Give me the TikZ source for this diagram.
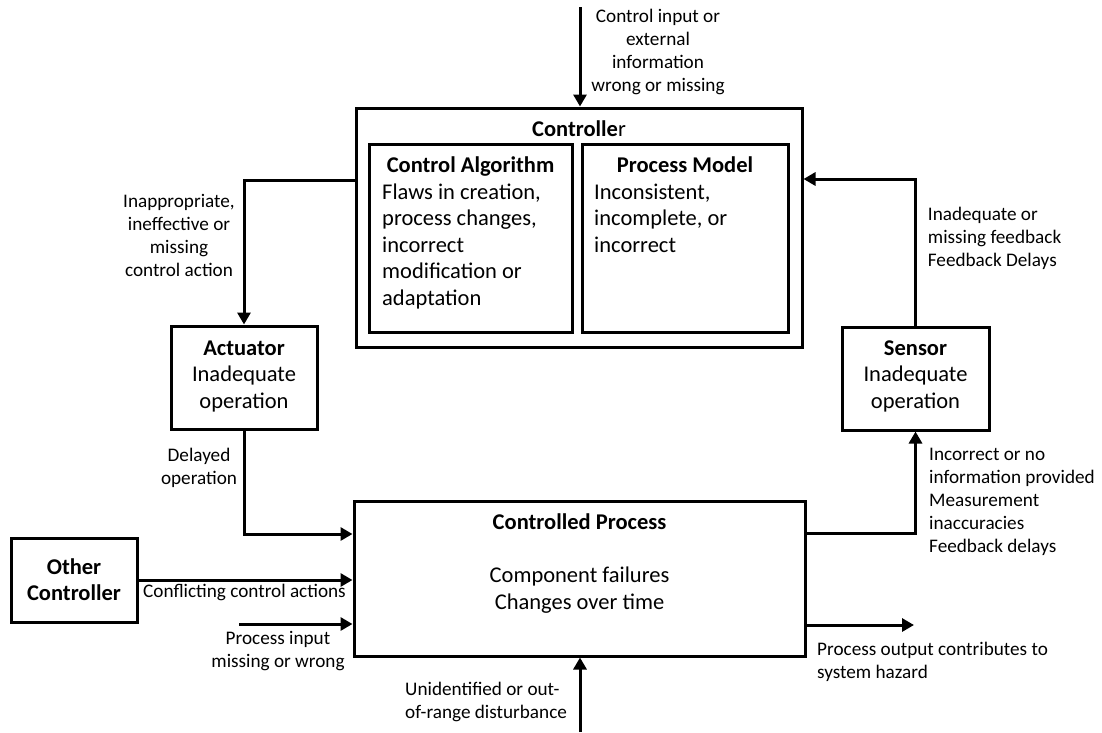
\documentclass[tikz,border=0pt]{standalone}
\usepackage{fontspec}
\setmainfont{Carlito}
\usetikzlibrary{arrows.meta}
% stacked lines, baseline at the first line
\newcommand\stackc[1]{\begin{tabular}[t]{@{}c@{}}#1\end{tabular}}
\newcommand\stackl[1]{\begin{tabular}[t]{@{}l@{}}#1\end{tabular}}
\begin{document}
\begin{tikzpicture}[x=1pt,y=-1pt,
  box/.style={draw, line width=3pt, inner sep=0pt},
  boxtext/.style={inner sep=0pt, font=\fontsize{22.5}{26.6}\selectfont},
  lbl/.style={inner sep=0pt, font=\fontsize{19.2}{23}\selectfont},
  arr/.style={line width=3pt, -{Triangle[length=12pt,width=13pt]}},
  wire/.style={line width=3pt}]
\fill[white] (0,0) rectangle (1102,732);
\useasboundingbox (0,0) rectangle (1102,732);

% controller with its two inner parts
\node[box, minimum width=446pt, minimum height=239pt] (ctrl) at (579,227.5) {};
\node[boxtext, anchor=base] (ctrlT) at (579,136) {\textbf{Controlle}r};
\node[box, minimum width=203pt, minimum height=188pt] (alg) at (470.5,238) {};
\node[box, minimum width=206pt, minimum height=188pt] (pm) at (685,238) {};
\node[boxtext, anchor=base] (algT) at (470.5,172.7) {\textbf{Control Algorithm}};
\node[boxtext, anchor=base west] (algB) at (382,199) {\stackl{Flaws in creation,\\process changes,\\incorrect\\modification or\\adaptation}};
\node[boxtext, anchor=base] (pmT) at (685,172.7) {\textbf{Process Model}};
\node[boxtext, anchor=base west] (pmB) at (594,199) {\stackl{Inconsistent,\\incomplete, or\\incorrect}};

% actuator, sensor, process, other controller
\node[box, minimum width=146pt, minimum height=103pt] (act) at (244,377.5) {};
\node[boxtext, anchor=base] (actT) at (244,355) {\stackc{\textbf{Actuator}\\Inadequate\\operation}};
\node[box, minimum width=147pt, minimum height=103pt] (sen) at (915.5,378.5) {};
\node[boxtext, anchor=base] (senT) at (915.5,355) {\stackc{\textbf{Sensor}\\Inadequate\\operation}};
\node[box, minimum width=451pt, minimum height=155pt] (cp) at (579.5,578.5) {};
\node[boxtext, anchor=base] (cpT) at (579.5,529) {\textbf{Controlled Process}};
\node[boxtext, anchor=base] (cpB) at (579.5,582.7) {\stackc{Component failures\\Changes over time}};
\node[box, minimum width=126pt, minimum height=84pt] (oc) at (74,580) {};
\node[boxtext, anchor=base] (ocT) at (74,574) {\stackc{\textbf{Other}\\\textbf{Controller}}};

% free ends and bend heights
\coordinate (inTop) at (580,7);
\coordinate (caOut) at (0,180.7);
\coordinate (dOut) at (0,534);
\coordinate (pin) at (239,624);
\coordinate (dist) at (580,732);
\coordinate (poutY) at (0,625);
\coordinate (pout) at (914,625);
\coordinate (fbLow) at (0,533);
\coordinate (fbTop) at (0,179);

% connectors
\draw[arr] (inTop) -- (inTop |- ctrl.north);
\draw[arr] (ctrl.west |- caOut) -| (act.north);
\draw[arr] (act.south) |- (cp.west |- dOut);
\draw[arr] (oc.east) -- (oc.east -| cp.west);
\draw[arr] (pin) -- (pin -| cp.west);
\draw[arr] (dist) -- (dist |- cp.south);
\draw[arr] (cp.east |- poutY) -- (pout);
\draw[arr] (cp.east |- fbLow) -| (sen.south);
\draw[arr] (sen.north) |- (ctrl.east |- fbTop);

% labels
\node[lbl, anchor=base] (lTop) at (658,22.7) {\stackc{Control input or\\external\\information\\wrong or missing}};
\node[lbl, anchor=base] (lAct) at (179,207.7) {\stackc{Inappropriate,\\ineffective or\\missing\\control action}};
\node[lbl, anchor=base] (lDel) at (199,461.7) {\stackc{Delayed\\operation}};
\node[lbl, anchor=base] (lConf) at (244.5,597.7) {Conflicting control actions};
\node[lbl, anchor=base] (lPin) at (278,644) {\stackc{Process input\\missing or wrong}};
\node[lbl, anchor=base west] (lDist) at (405,695) {\stackl{Unidentified or out-\\of-range disturbance}};
\node[lbl, anchor=base west] (lOut) at (817,655) {\stackl{Process output contributes to\\system hazard}};
\node[lbl, anchor=base west] (lMeas) at (929,460) {\stackl{Incorrect or no\\information provided\\Measurement\\inaccuracies\\Feedback delays}};
\node[lbl, anchor=base west] (lFb) at (927.7,220) {\stackl{Inadequate or\\missing feedback\\Feedback Delays}};
\end{tikzpicture}
\end{document}
